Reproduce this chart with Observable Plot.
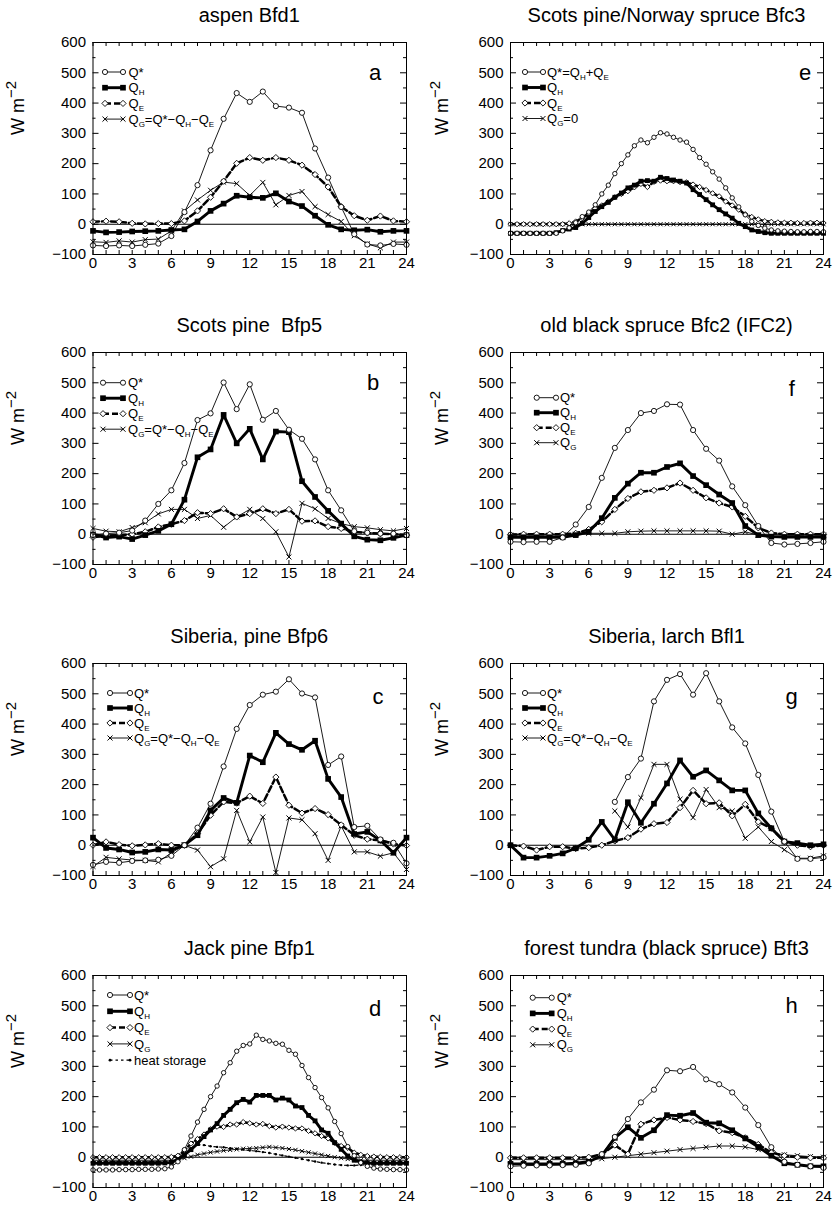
<!DOCTYPE html>
<html><head><meta charset="utf-8">
<script src="https://cdn.jsdelivr.net/npm/d3@7"></script>
<script src="https://cdn.jsdelivr.net/npm/@observablehq/plot@0.6"></script>
<style>
body{margin:0;background:#fff;font-family:"Liberation Sans",Arial,Helvetica,sans-serif;color:#000;}
#fig{position:relative;width:839px;height:1206px;overflow:hidden;}
.title{position:absolute;width:420px;font-size:20px;line-height:24px;text-align:center;white-space:pre;}
.panel{position:absolute;}
</style></head><body><div id="fig"></div>
<script>
// ---------- DATA ----------
const hours = [0,1,2,3,4,5,6,7,8,9,10,11,12,13,14,15,16,17,18,19,20,21,22,23,24];
const halfHours = [0,0.5,1,1.5,2,2.5,3,3.5,4,4.5,5,5.5,6,6.5,7,7.5,8,8.5,9,9.5,10,10.5,11,11.5,12,12.5,13,13.5,14,14.5,15,15.5,16,16.5,17,17.5,18,18.5,19,19.5,20,20.5,21,21.5,22,22.5,23,23.5,24];
const yTickValues = [-100,0,100,200,300,400,500,600];
const yMinorValues = [-50,50,150,250,350,450,550];
const xTickLabels = [0,3,6,9,12,15,18,21,24];

// a: aspen Bfd1
const a_Qstar = [-70,-72,-70,-72,-68,-64,-39,40,129,244,348,433,404,438,390,385,368,250,154,57,-33,-67,-70,-65,-68];
const a_QH = [-22,-27,-26,-24,-23,-22,-19,-17,9,44,68,94,89,87,102,75,60,28,-2,-17,-20,-18,-25,-22,-22];
const a_QE = [8,10,8,3,1,2,2,11,44,89,142,201,220,211,220,211,195,164,123,58,28,13,27,11,8];
const a_QG = [-58,-60,-55,-59,-51,-49,-22,44,80,112,139,134,95,138,64,95,108,58,32,9,-38,-65,-78,-59,-59];

// e: Scots pine/Norway spruce Bfc3 (half-hourly)
const e_Qstar = [-30,-30,-30,-30,-30,-30,-30,-30,-22,-12,5,25,40,64,100,129,167,200,229,259,278,269,287,302,298,287,278,271,247,220,198,173,149,120,87,57,31,9,-4,-13,-19,-22,-23,-24,-25,-25,-24,-24,-25];
const e_QH = [-30,-30,-30,-30,-30,-30,-30,-28,-21,-16,-11,3,22,42,58,72,89,103,120,129,142,144,142,155,151,146,142,136,114,98,81,64,48,34,20,3,-8,-19,-24,-28,-30,-30,-30,-30,-30,-30,-30,-30,-30];
const e_QE = [0,0,0,0,0,0,0,0,0,3,9,20,35,52,62,75,89,100,109,122,133,123,140,144,142,142,139,138,131,123,113,102,92,75,62,48,33,24,16,10,8,6,5,5,4,4,5,5,4];
const e_QG = [0,0,0,0,0,0,0,0,0,0,0,0,0,0,0,0,0,0,0,0,0,0,0,0,0,0,0,0,0,0,0,0,0,0,0,0,0,0,0,0,0,0,0,0,0,0,0,0,0];

// b: Scots pine Bfp5
const b_Qstar = [-3,2,5,12,45,100,145,235,377,399,501,413,495,378,407,345,315,247,145,79,10,5,2,2,-3];
const b_QH = [-1,-11,-8,-16,-3,11,33,114,254,280,394,300,348,247,339,337,175,123,77,35,-7,-18,-20,-12,-3];
const b_QE = [-10,-5,-3,0,8,24,33,45,71,68,84,57,68,84,68,82,43,44,25,19,8,4,2,0,-3];
const b_QG = [19,10,8,22,38,67,82,82,52,62,23,57,82,52,8,-75,102,84,52,35,25,21,15,11,19];

// f: old black spruce Bfc2 (IFC2)
const f_Qstar = [-25,-26,-25,-25,-11,32,90,186,285,344,400,407,429,428,344,282,243,158,96,27,-29,-34,-32,-29,-25];
const f_QH = [-10,-10,-10,-10,-10,-3,8,53,120,167,203,203,222,234,192,162,131,103,27,-3,-8,-9,-9,-9,-9];
const f_QE = [-1,0,0,0,0,3,16,41,82,118,140,145,153,169,145,120,103,90,59,21,4,0,0,0,0];
const f_QG = [-3,-3,-3,-3,-3,0,3,3,3,8,10,11,11,11,11,11,10,0,8,-3,-3,-3,-3,-3,-3];

// c: Siberia, pine Bfp6
const c_Qstar = [-65,-55,-58,-52,-50,-48,-35,0,58,137,260,384,463,497,507,548,501,488,265,293,60,64,19,8,-60];
const c_QH = [25,-9,-14,-24,-22,-14,-16,0,33,115,156,140,296,274,371,334,315,345,219,159,37,44,16,-25,25];
const c_QE = [0,11,2,-2,1,5,0,0,38,99,143,139,162,138,225,132,106,121,101,67,33,20,16,4,-1];
const c_QG = [-70,-40,-45,-49,-50,-55,-25,0,-16,-71,-45,115,11,93,-90,90,84,38,-50,64,-22,-22,-36,-25,-80];

// g: Siberia, larch Bfl1
const g_Qstar = [null,null,null,null,null,null,null,null,143,225,286,475,546,565,497,568,475,389,336,232,111,12,-45,-45,-40];
const g_QH = [0,-41,-41,-35,-27,-10,18,77,18,142,74,137,204,280,226,247,214,181,181,105,56,12,7,0,3];
const g_QE = [0,-3,-16,-5,-5,-11,-8,0,14,25,53,71,75,124,181,137,140,97,135,77,56,12,0,-5,0];
const g_QG = [null,null,null,null,null,null,null,null,113,60,157,267,267,152,91,184,124,113,23,60,12,-15,-43,-43,-35];

// d: Jack pine Bfp1 (half-hourly)
const d_Qstar = [-42,-42,-42,-42,-41,-41,-41,-40,-40,-40,-39,-38,-32,-15,25,70,116,158,200,235,279,312,350,369,374,403,389,384,376,373,353,340,303,263,230,197,163,118,78,35,5,-18,-30,-36,-39,-40,-41,-41,-42];
const d_QH = [-20,-20,-20,-20,-20,-20,-20,-20,-20,-20,-20,-19,-17,-8,8,25,45,68,90,111,138,158,180,191,182,204,204,204,189,195,189,169,164,138,120,90,79,48,26,4,-10,-16,-19,-20,-20,-20,-20,-20,-20];
const d_QE = [0,0,0,0,0,0,0,0,0,0,0,0,1,5,22,45,60,75,92,101,100,108,108,116,112,108,110,103,98,101,98,95,95,87,79,70,62,48,37,31,15,8,4,2,1,0,0,0,0];
const d_QG = [-10,-10,-10,-10,-10,-10,-10,-10,-10,-10,-10,-10,-10,-8,-3,2,8,12,16,19,22,24,26,28,29,30,32,34,32,30,27,24,20,16,12,8,4,0,-3,-6,-8,-10,-10,-10,-10,-10,-10,-10,-10];
const d_storage = [-15,-15,-15,-15,-15,-15,-15,-15,-15,-15,-15,-15,-15,-5,10,30,42,40,36,34,33,30,28,25,22,20,17,14,10,6,2,-2,-6,-10,-14,-18,-21,-24,-26,-27,-27,-26,-25,-23,-21,-20,-19,-17,-16];

// h: forest tundra (black spruce) Bft3
const h_Qstar = [-30,-28,-27,-27,-26,-25,-20,10,67,126,181,223,287,284,298,257,241,214,164,106,33,-15,-25,-30,-35];
const h_QH = [-22,-22,-22,-22,-22,-20,-15,5,64,99,64,89,139,137,146,114,112,89,62,34,5,-20,-25,-30,-30];
const h_QE = [-2,-2,-2,-2,-2,-2,0,10,40,10,109,123,131,123,118,111,87,81,64,42,15,5,0,-2,-2];
const h_QG = [-8,-8,-8,-8,-8,-8,-8,-5,0,5,10,15,20,25,29,33,37,37,34,25,15,8,5,2,0];

// Titles and legend labels
const titles = {a:"aspen Bfd1", e:"Scots pine/Norway spruce Bfc3", b:"Scots pine  Bfp5", f:"old black spruce Bfc2 (IFC2)", c:"Siberia, pine Bfp6", g:"Siberia, larch Bfl1", d:"Jack pine Bfp1", h:"forest tundra (black spruce) Bft3"};
const legendFull = ["Q*","Q_H","Q_E","Q_G=Q*−Q_H−Q_E"];
const legendE = ["Q*=Q_H+Q_E","Q_H","Q_E","Q_G=0"];
const legendSimple = ["Q*","Q_H","Q_E","Q_G"];
const legendD = ["Q*","Q_H","Q_E","Q_G","heat storage"];

// ---------- STYLES / LAYOUT ----------
const styles = {
  Qstar:{symbol:"circle", d3s:d3.symbolCircle, r:2.6, fill:"white", sw:0.9, dash:null, msw:0.9},
  QH:{symbol:"square", d3s:d3.symbolSquare, r:3.2, fill:"black", sw:2.9, dash:null, msw:0},
  QE:{symbol:"diamond2", d3s:d3.symbolDiamond2, r:2.8, fill:"white", sw:2.5, dash:"6,3", msw:0.9},
  QG:{symbol:"times", d3s:d3.symbolTimes, r:2.4, fill:"none", sw:0.9, dash:null, msw:1},
  HS:{symbol:"circle", d3s:d3.symbolCircle, r:1.4, fill:"black", sw:1.2, dash:"2.5,3", msw:0}
};
const keys = ["Qstar","QH","QE","QG","HS"];

const panels = [
  {id:"a", row:0, col:0, x:hours, series:[a_Qstar,a_QH,a_QE,a_QG], legend:legendFull, leg:[30,15.7,12.5,30.5,36], letter:[282.5,30]},
  {id:"e", row:0, col:1, x:halfHours, series:[e_Qstar,e_QH,e_QE,e_QG], legend:legendE, leg:[30,15.5,15,33,37], letter:[295,30], small:true},
  {id:"b", row:1, col:0, x:hours, series:[b_Qstar,b_QH,b_QE,b_QG], legend:legendFull, leg:[30.7,15.5,10.5,30.5,35.5], letter:[280.5,30.7]},
  {id:"f", row:1, col:1, x:hours, series:[f_Qstar,f_QH,f_QE,f_QG], legend:legendSimple, leg:[45.7,15,26.7,46,50], letter:[281.7,36.3]},
  {id:"c", row:2, col:0, x:hours, series:[c_Qstar,c_QH,c_QE,c_QG], legend:legendFull, leg:[30,15,17.5,37.5,41.5], letter:[285.5,33.7]},
  {id:"g", row:2, col:1, x:hours, series:[g_Qstar,g_QH,g_QE,g_QG], legend:legendFull, leg:[30,15,15,33,37], letter:[281.7,33.7]},
  {id:"d", row:3, col:0, x:halfHours, series:[d_Qstar,d_QH,d_QE,d_QG,d_storage], legend:legendD, leg:[20,16.3,17.5,37.5,41.5], letter:[282.5,33], small:true},
  {id:"h", row:3, col:1, x:hours, series:[h_Qstar,h_QH,h_QE,h_QG], legend:legendSimple, leg:[22.7,15.7,22.7,41.7,46.7], letter:[281.7,30]}
];
const rowTops = [42, 352, 663, 975];
const cols = [{left:0, width:420, mL:92.5, mR:14}, {left:420, width:419, mL:90, mR:16}];
const mT = 12, plotH = 212, mB = 28;

const fig = document.getElementById("fig");
const fmt = d => d < 0 ? "\u2212" + (-d) : String(d);

function richText(textSel, s, subSize, subDy) {
  const parts = s.split(/(_.)/);
  let inSub = false;
  parts.forEach(part => {
    if (!part) return;
    if (part[0] === "_") {
      const ts = textSel.append("tspan").attr("font-size", subSize).text(part[1]);
      if (!inSub) ts.attr("dy", subDy);
      inSub = true;
    } else {
      const ts = textSel.append("tspan").text(part);
      if (inSub) ts.attr("dy", -subDy);
      inSub = false;
    }
  });
}

panels.forEach(p => {
  const col = cols[p.col];
  const W = col.width, H = mT + plotH + mB;
  const fw = W - col.mL - col.mR;
  const scale = p.small ? 0.85 : 1;
  const order = [4,3,2,1,0].filter(i => i < p.series.length);
  const marks = [Plot.ruleY([0], {stroke:"black", strokeWidth:1.1})];
  order.forEach(i => {
    const st = styles[keys[i]];
    const rows = p.x.map((h, j) => ({h, v: p.series[i][j]}));
    marks.push(Plot.line(rows, {x:"h", y:"v", stroke:"black", strokeWidth:st.sw, strokeDasharray:st.dash}));
    marks.push(Plot.dot(rows, {x:"h", y:"v", symbol:st.symbol, r:st.r*scale, fill:st.fill, stroke: st.msw ? "black" : "none", strokeWidth:st.msw}));
  });
  marks.push(
    Plot.frame({stroke:"black", strokeWidth:1}),
    Plot.tickY(yTickValues, {y:d=>d, insetRight:fw-6, stroke:"black"}),
    Plot.tickY(yTickValues, {y:d=>d, insetLeft:fw-6, stroke:"black"}),
    Plot.tickY(yMinorValues, {y:d=>d, insetRight:fw-3, stroke:"black"}),
    Plot.tickY(yMinorValues, {y:d=>d, insetLeft:fw-3, stroke:"black"}),
    Plot.tickX(hours, {x:d=>d, insetBottom:plotH-4, stroke:"black"}),
    Plot.tickX(hours, {x:d=>d, insetTop:plotH-4, stroke:"black"}),
    Plot.axisY({ticks:yTickValues, tickSize:0, tickPadding:7, tickFormat:fmt, label:null, fontSize:15}),
    Plot.axisX({ticks:xTickLabels, tickSize:0, tickPadding:3, tickFormat:fmt, label:null, fontSize:15})
  );
  const svg = Plot.plot({
    width:W, height:H, marginLeft:col.mL, marginRight:col.mR, marginTop:mT, marginBottom:mB,
    x:{domain:[0,24]}, y:{domain:[-100,600]},
    style:{fontFamily:'"Liberation Sans",Arial,Helvetica,sans-serif', fontSize:"15px", color:"black", background:"white", overflow:"visible"},
    marks
  });
  const sel = d3.select(svg);
  // y axis title
  const yt = sel.append("text").attr("font-size", 18).attr("fill","black")
    .attr("transform", `translate(${p.col === 0 ? 24 : 28},${mT + 66}) rotate(-90)`).attr("text-anchor","middle");
  yt.append("tspan").text("W m");
  yt.append("tspan").attr("font-size", 15).attr("dy", -8).text("\u22122");
  // panel letter
  sel.append("text").attr("x", col.mL + p.letter[0]).attr("y", mT + p.letter[1]).attr("dy","0.35em")
    .attr("text-anchor","middle").attr("font-size", 22).attr("fill","black").text(p.id);
  // legend
  const [ly, ldy, lx0, lx1, ltx] = p.leg;
  const lg = sel.append("g").attr("text-anchor","start");
  p.legend.forEach((lab, i) => {
    const st = styles[keys[i]];
    const y = mT + ly + i * ldy;
    lg.append("line").attr("x1", col.mL + lx0).attr("x2", col.mL + lx1).attr("y1", y).attr("y2", y)
      .attr("stroke","black").attr("stroke-width", st.sw).attr("stroke-dasharray", st.dash);
    [lx0, lx1].forEach(x => {
      lg.append("path").attr("d", d3.symbol(st.d3s, Math.PI * st.r * st.r)())
        .attr("transform", `translate(${col.mL + x},${y})`)
        .attr("fill", st.fill).attr("stroke", st.msw ? "black" : "none").attr("stroke-width", st.msw);
    });
    const t = lg.append("text").attr("x", col.mL + ltx).attr("y", y).attr("dy","0.36em")
      .attr("text-anchor","start").attr("font-size", 13).attr("fill","black");
    richText(t, lab, 8, 3);
  });
  const div = document.createElement("div");
  div.className = "panel";
  div.style.left = col.left + "px";
  div.style.top = (rowTops[p.row] - mT) + "px";
  div.appendChild(svg);
  fig.appendChild(div);
  const tdiv = document.createElement("div");
  tdiv.className = "title";
  tdiv.textContent = titles[p.id];
  const cx = col.left + col.mL + fw / 2;
  tdiv.style.left = (cx - 210) + "px";
  tdiv.style.top = (rowTops[p.row] - 25 - 14) + "px";
  fig.appendChild(tdiv);
});
</script></body></html>
